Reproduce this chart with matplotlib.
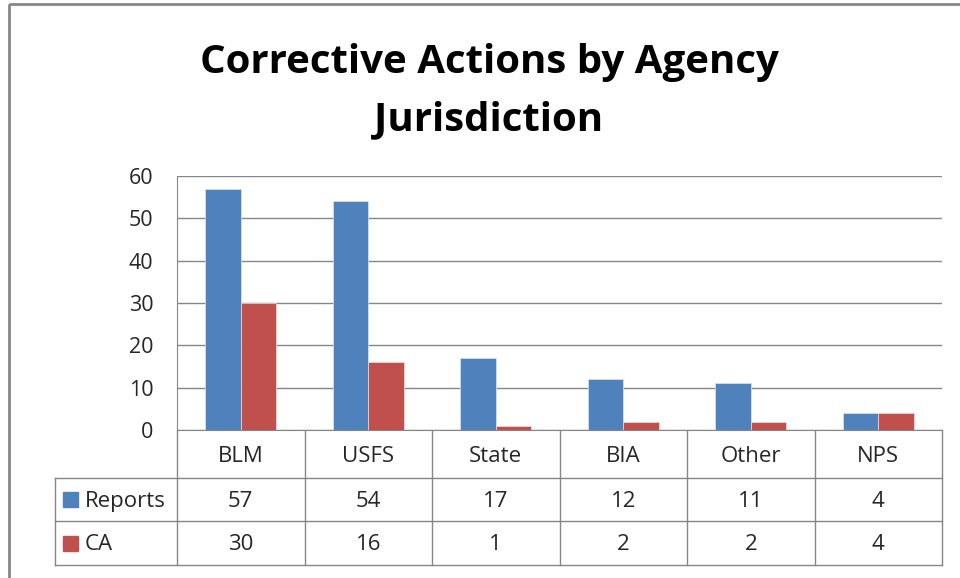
import numpy as np
import matplotlib.pyplot as plt
from matplotlib.patches import Rectangle
from matplotlib.lines import Line2D

plt.rcParams['font.family'] = ['Open Sans', 'DejaVu Sans']

agencies = ['BLM', 'USFS', 'State', 'BIA', 'Other', 'NPS']
reports = [57, 54, 17, 12, 11, 4]
ca = [30, 16, 1, 2, 2, 4]
series_names = ['Reports', 'CA']
colors = ['#4F81BD', '#C0504D']

W, H = 960, 578
fig = plt.figure(figsize=(W / 100, H / 100), dpi=100)

# overlay axes in pixel coords for border and table
ov = fig.add_axes([0, 0, 1, 1])
ov.set_xlim(0, W)
ov.set_ylim(H, 0)
ov.axis('off')

# plot area in pixels
L, R, T, B = 177, 942, 176, 430
ax = fig.add_axes([L / W, 1 - B / H, (R - L) / W, (B - T) / H])

x = np.arange(len(agencies))
bw = 0.28
ax.bar(x - bw / 2, reports, bw, color=colors[0], edgecolor='#dce6f2', linewidth=0.5, zorder=3)
ax.bar(x + bw / 2, ca, bw, color=colors[1], edgecolor='#f2dcdb', linewidth=0.5, zorder=3)
ax.set_xlim(-0.5, len(agencies) - 0.5)
ax.set_ylim(0, 60)
ax.set_yticks(range(0, 61, 10))
ax.set_xticks([])
ax.yaxis.grid(True, color='#868686', linewidth=1)
ax.set_axisbelow(True)
for s in ['top', 'right']:
    ax.spines[s].set_visible(False)
for s in ['left', 'bottom']:
    ax.spines[s].set_color('#868686')
ax.tick_params(axis='y', length=0, labelsize=15.5, labelcolor='#262626', pad=17)

# title
title_lines = ['Corrective Actions by Agency', 'Jurisdiction']
for line, by in zip(title_lines, [73, 130]):
    ov.text(489, by, line, ha='center', va='baseline',
            fontsize=29, fontweight='bold', color='black')

# outer border
ov.add_patch(Rectangle((9, 4), 1000, 1000, fill=False, edgecolor='#868686', linewidth=2, clip_on=True))

# data table
gc = '#868686'
fs = 16
col_w = (R - L) / len(agencies)
row_y = [430, 478, 521, 565]
tx0 = 55
cols = [L + i * col_w for i in range(len(agencies) + 1)]
for cx in cols:
    ov.add_line(Line2D([cx, cx], [row_y[0], row_y[3]], color=gc, lw=1))
ov.add_line(Line2D([tx0, tx0], [row_y[1], row_y[3]], color=gc, lw=1))
for yy in row_y[1:]:
    ov.add_line(Line2D([tx0, R], [yy, yy], color=gc, lw=1))

for i, a in enumerate(agencies):
    cx = L + (i + 0.5) * col_w
    ov.text(cx, (row_y[0] + row_y[1]) / 2 + 3, a, ha='center', va='center', fontsize=fs, color='#262626')
    ov.text(cx, (row_y[1] + row_y[2]) / 2 + 2, str(reports[i]), ha='center', va='center', fontsize=fs, color='#262626')
    ov.text(cx, (row_y[2] + row_y[3]) / 2 + 2, str(ca[i]), ha='center', va='center', fontsize=fs, color='#262626')

for k, name in enumerate(series_names):
    yc = (row_y[k + 1] + row_y[k + 2]) / 2
    ov.add_patch(Rectangle((63, yc - 7.5), 15, 15, color=colors[k]))
    ov.text(85, yc + 2, name, ha='left', va='center', fontsize=fs, color='#262626')

fig.savefig('out.png', dpi=100)
